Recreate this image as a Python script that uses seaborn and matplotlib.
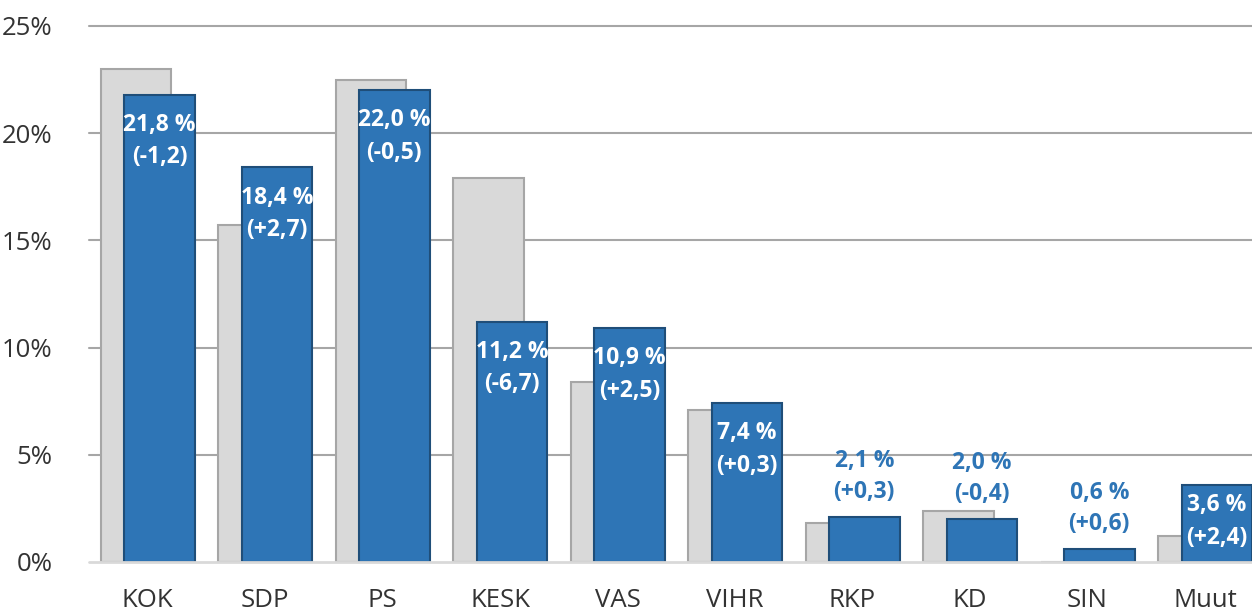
import numpy as np
import pandas as pd
import matplotlib.pyplot as plt
import seaborn as sns

sns.set_theme(style="white")
plt.rcParams['font.family'] = ['Open Sans', 'DejaVu Sans']

# party support, previous vs current (%)
parties = ['KOK', 'SDP', 'PS', 'KESK', 'VAS', 'VIHR', 'RKP', 'KD', 'SIN', 'Muut']
previous = [23.0, 15.7, 22.5, 17.9, 8.4, 7.1, 1.8, 2.4, 0.0, 1.2]
current = [21.8, 18.4, 22.0, 11.2, 10.9, 7.4, 2.1, 2.0, 0.6, 3.6]
change = ['-1,2', '+2,7', '-0,5', '-6,7', '+2,5', '+0,3', '+0,3', '-0,4', '+0,6', '+2,4']

pos = np.arange(len(parties))
df_prev = pd.DataFrame({'x': pos - 0.1, 'y': previous})
df_cur = pd.DataFrame({'x': pos + 0.1, 'y': current})

blue = '#2E75B6'
fig = plt.figure(figsize=(12.52, 6.13), dpi=100)
ax = fig.add_axes([0.071, 0.0832, 0.929, 0.8744])

for yv in [5, 10, 15, 20, 25]:
    ax.axhline(yv, color='#A6A6A6', lw=1.5, zorder=0, clip_on=False)

sns.barplot(data=df_prev, x='x', y='y', native_scale=True, width=0.6,
            color='#D9D9D9', saturation=1, edgecolor='#A6A6A6', linewidth=1.5,
            ax=ax, zorder=2)
sns.barplot(data=df_cur, x='x', y='y', native_scale=True, width=0.6,
            color=blue, saturation=1, edgecolor='#1F4E79', linewidth=1.5,
            ax=ax, zorder=3)

ax.axhline(0, color='#D9D9D9', lw=2, zorder=4, clip_on=False)

for i, (v, c) in enumerate(zip(current, change)):
    xc = i + 0.1
    val = f"{v:.1f}".replace('.', ',') + ' %'
    if v >= 3:
        # inside the bar, moved up for short bars
        y1 = max(v - 1.4, 2.66)
        y2 = y1 - 1.52
        col = 'white'
    else:
        y2 = v + 1.17
        y1 = y2 + 1.45
        col = blue
    ax.text(xc, y1, val, ha='center', va='center', color=col,
            fontsize=16.5, fontweight='bold', zorder=5)
    ax.text(xc, y2, f"({c})", ha='center', va='center', color=col,
            fontsize=16.5, fontweight='bold', zorder=5)

ax.set_xlim(-0.5, 9.4)
ax.set_ylim(0, 25)
ax.set_xticks(pos)
ax.set_xticklabels(parties)
ax.set_yticks([0, 5, 10, 15, 20, 25])
ax.set_yticklabels([f"{t}%" for t in [0, 5, 10, 15, 20, 25]])
ax.tick_params(axis='both', labelsize=18.5, colors='#333333', length=0)
ax.tick_params(axis='x', pad=19)
ax.tick_params(axis='y', pad=26)
ax.set_xlabel('')
ax.set_ylabel('')
for s in ax.spines.values():
    s.set_visible(False)

fig.savefig('out.png', dpi=100)
